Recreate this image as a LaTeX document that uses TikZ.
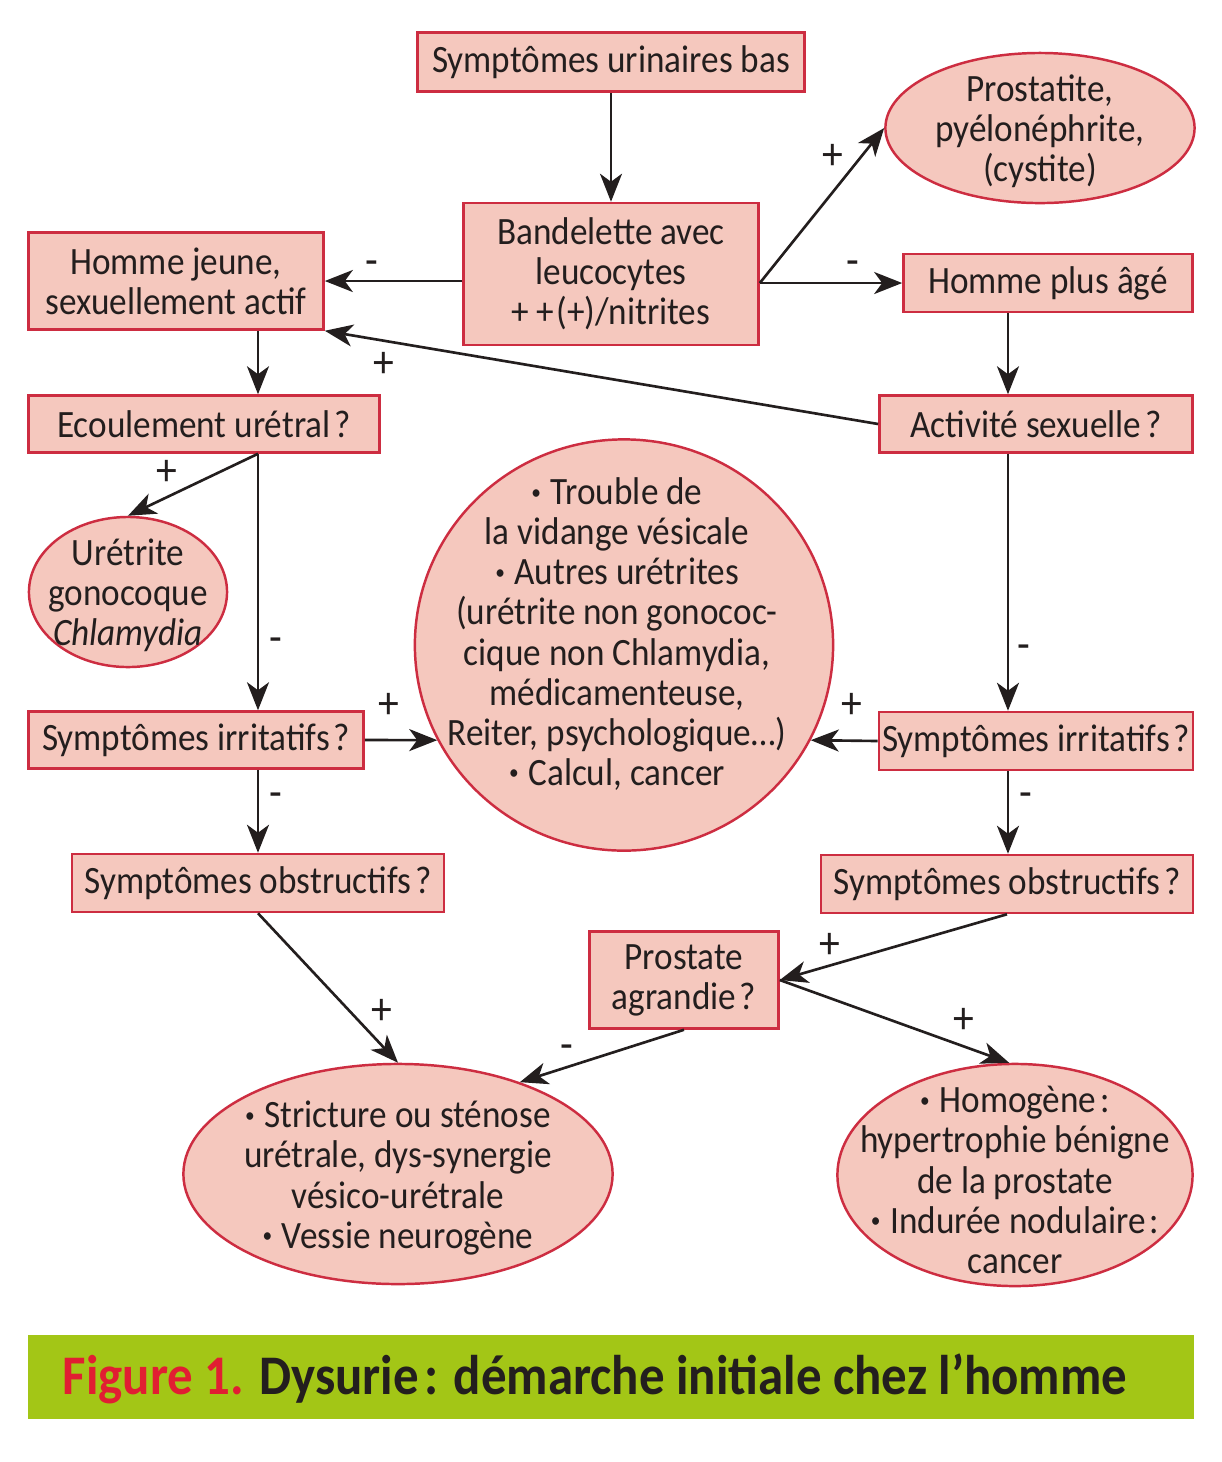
\documentclass[tikz,border=0pt]{standalone}
\usepackage{fontspec}
\setmainfont{Carlito}[FakeStretch=0.91]
\usetikzlibrary{shapes.geometric,arrows.meta}
\definecolor{boxfill}{RGB}{245,200,190}
\definecolor{boxline}{RGB}{205,45,65}
\definecolor{bandgreen}{RGB}{163,198,22}
\definecolor{figred}{RGB}{225,30,50}
\definecolor{ink}{RGB}{35,30,30}
\newcommand{\smallbul}{\raisebox{0.3ex}{\scalebox{0.55}{•}}\kern0.25em}
\tikzset{
  box/.style={draw=boxline, fill=boxfill, line width=0.7pt, inner sep=0pt, align=center, text=ink},
  oval/.style={ellipse, draw=boxline, fill=boxfill, line width=0.7pt, inner sep=0pt},
  ovaltext/.style={align=center, text=ink, inner sep=0pt},
  arr/.style={-{Stealth[length=2.8mm,width=2.2mm,inset=0.8mm]}, line width=0.75pt, draw=ink},
  sign/.style={text=ink, inner sep=0pt, font=\fontsize{13}{13}\selectfont},
}
\begin{document}
\begin{tikzpicture}[x=0.01cm, y=-0.01cm, every node/.style={font=\fontsize{11}{11.4}\selectfont}]
  \useasboundingbox[fill=white] (0,0) rectangle (1222,1462);
  \coordinate (colL) at (258,0);
  \coordinate (colR) at (1008,0);
  % boxes
  \node[box, minimum width=3.87cm, minimum height=0.59cm] (top) at (611,62) {Symptômes urinaires bas};
  \node[box, minimum width=2.95cm, minimum height=1.42cm] (bande) at (611,274) {Bandelette avec\\leucocytes\\+\kern0.2em+\kern0.05em(+)/nitrites};
  \node[box, minimum width=2.95cm, minimum height=0.97cm] (jeune) at (176,281) {Homme jeune,\\sexuellement actif};
  \node[box, minimum width=2.89cm, minimum height=0.58cm] (age) at (1048,283) {Homme plus âgé};
  \node[box, minimum width=3.13cm, minimum height=0.57cm] (sexe) at (1036,424) {Activité sexuelle\kern0.1em?};
  \node[box, minimum width=3.51cm, minimum height=0.57cm] (ecoul) at (204,424) {Ecoulement urétral\kern0.1em?};
  \node[box, minimum width=3.35cm, minimum height=0.57cm] (irrL) at (196,740) {Symptômes irritatifs\kern0.1em?};
  \node[box, minimum width=3.14cm, minimum height=0.58cm] (irrR) at (1036,741) {Symptômes irritatifs\kern0.1em?};
  \node[box, minimum width=3.72cm, minimum height=0.58cm] (obsL) at (258,883) {Symptômes obstructifs\kern0.1em?};
  \node[box, minimum width=3.72cm, minimum height=0.58cm] (obsR) at (1007,884) {Symptômes obstructifs\kern0.1em?};
  \node[box, minimum width=1.89cm, minimum height=0.97cm] (prosta) at (684,980) {Prostate\\agrandie\kern0.1em?};
  % ovals
  \node[oval, minimum width=3.09cm, minimum height=1.50cm] (infect) at (1040,128) {};
  \node[ovaltext] (infectT) at (1040,131) {Prostatite,\\pyélonéphrite,\\(cystite)};
  \node[oval, minimum width=1.98cm, minimum height=1.50cm] (gono) at (128,592) {};
  \node[ovaltext] (gonoT) at (128,595) {Urétrite\\gonocoque\\\textit{Chlamydia}};
  \node[oval, minimum width=4.18cm, minimum height=4.11cm] (vidange) at (624,645) {};
  \node[ovaltext] (vidangeT) at (617,634) {\smallbul Trouble de\\la vidange vésicale\\\smallbul Autres urétrites\\(urétrite non gonococ-\\cique non Chlamydia,\\médicamenteuse,\\Reiter, psychologique…)\\\smallbul Calcul, cancer};
  \node[oval, minimum width=4.29cm, minimum height=2.20cm] (stric) at (398,1174) {};
  \node[ovaltext] (stricT) at (398,1178) {\smallbul Stricture ou sténose\\urétrale, dys-synergie\\vésico-urétrale\\\smallbul Vessie neurogène};
  \node[oval, minimum width=3.55cm, minimum height=2.22cm] (hbp) at (1015,1175) {};
  \node[ovaltext] (hbpT) at (1015,1180) {\smallbul Homogène\kern0.1em:\\hypertrophie bénigne\\de la prostate\\\smallbul Indurée nodulaire\kern0.1em:\\cancer};
  % arrows
  \draw[arr] (top) -- (bande);
  \draw[arr] (bande.east |- age.west) -- (infect.west);
  \draw[arr] (bande.east |- age.west) -- (age.west);
  \draw[arr] (bande.west |- jeune.east) -- (jeune.east);
  \draw[arr] (sexe.west) -- (jeune.south east);
  \draw[arr] (jeune.south -| colL) -- (ecoul.north -| colL);
  \draw[arr] (age.south -| colR) -- (sexe.north -| colR);
  \draw[arr] (ecoul.south -| colL) -- (gono.north);
  \draw[arr] (ecoul.south -| colL) -- (irrL.north -| colL);
  \draw[arr] (irrL.east) -- (vidange.207);
  \draw[arr] (sexe.south -| colR) -- (irrR.north -| colR);
  \draw[arr] (irrR.west) -- (vidange.333);
  \draw[arr] (irrL.south -| colL) -- (obsL.north -| colL);
  \draw[arr] (irrR.south -| colR) -- (obsR.north -| colR);
  \draw[arr] (obsL.south -| colL) -- (stric.north);
  \draw[arr] (obsR.south) -- (prosta.east);
  \draw[arr] (prosta.east) -- (hbp.93);
  \draw[arr] (prosta.south) -- (stric.37);
  % signs
  \node[sign] (s1) at (833,157) {+};
  \node[sign] (s2) at (853,268) {-};
  \node[sign] (s3) at (372,268) {-};
  \node[sign] (s4) at (384,365) {+};
  \node[sign] (s5) at (167,473) {+};
  \node[sign] (s6) at (276,645) {-};
  \node[sign] (s7) at (389,706) {+};
  \node[sign] (s8) at (1024,652) {-};
  \node[sign] (s9) at (852,706) {+};
  \node[sign] (s10) at (276,800) {-};
  \node[sign] (s11) at (1026,800) {-};
  \node[sign] (s12) at (382,1012) {+};
  \node[sign] (s13) at (830,946) {+};
  \node[sign] (s14) at (964,1021) {+};
  \node[sign] (s15) at (567,1052) {-};
  % caption
  \fill[bandgreen] (28,1335) rectangle (1194,1419);
  \node[anchor=base west, inner sep=0pt, font=\bfseries\fontsize{15.9}{19}\selectfont, text=ink] (legend) at (62,1394)
    {\textcolor{figred}{Figure 1.} Dysurie\kern0.1em: démarche initiale chez l’homme};
\end{tikzpicture}
\end{document}
